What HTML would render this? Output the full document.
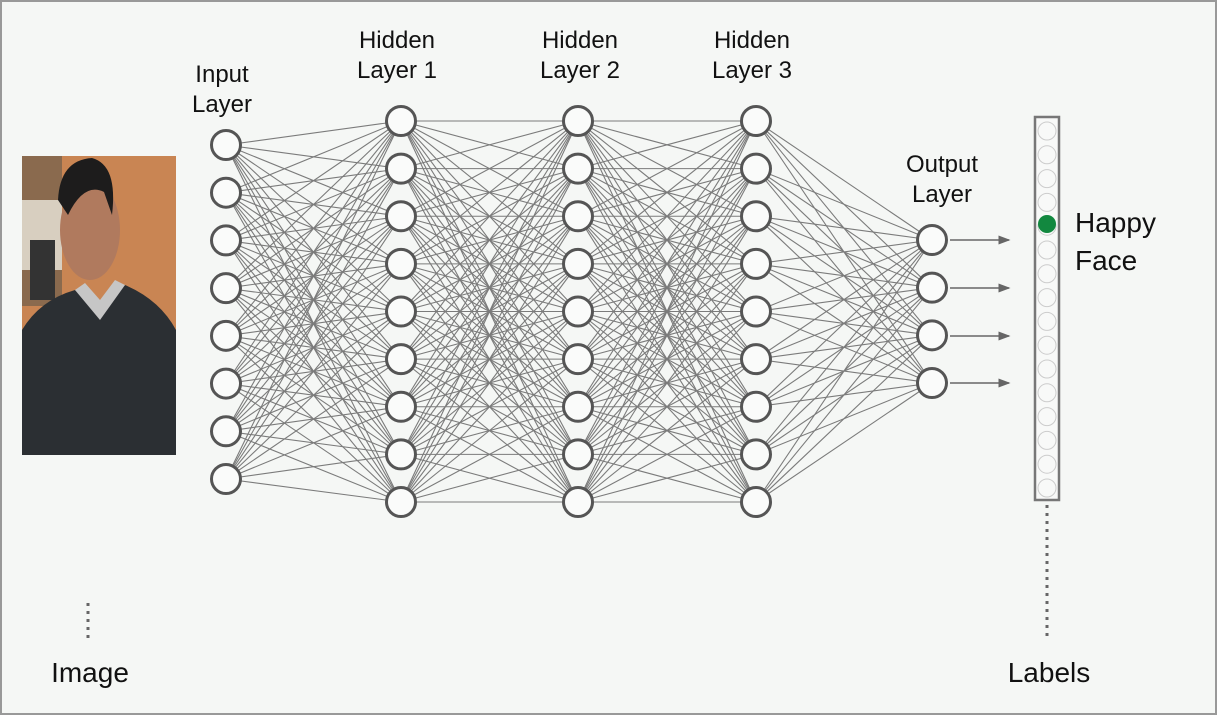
<!DOCTYPE html>
<html><head><meta charset="utf-8"><style>
html,body{margin:0;padding:0;}
body{width:1217px;height:715px;background:#f5f7f5;position:relative;overflow:hidden;font-family:"Liberation Sans",sans-serif;}
#frame{position:absolute;left:0;top:0;width:1213px;height:711px;border:2px solid #999;}
.t{position:absolute;color:#111;text-align:center;line-height:30px;}
</style></head><body>
<div id="frame"></div>
<svg id="s" width="1217" height="715" style="position:absolute;left:0;top:0">
<defs>
<marker id="ar" markerWidth="8" markerHeight="8" refX="7" refY="4" orient="auto"><path d="M0,1 L8,4 L0,7 z" fill="#666"/></marker>
</defs>
<g>
<rect x="22" y="156" width="154" height="299" fill="#c98553"/>
<rect x="22" y="156" width="40" height="150" fill="#8a6a4e"/>
<rect x="22" y="200" width="40" height="70" fill="#d8cfc0"/>
<rect x="30" y="240" width="25" height="60" fill="#333"/>
<ellipse cx="90" cy="230" rx="30" ry="50" fill="#b07a5e"/>
<path d="M58,200 Q60,160 92,158 Q118,165 112,215 L104,192 Q84,182 68,215 Z" fill="#1d1c1c"/>
<path d="M22,455 L22,330 Q40,300 75,290 L100,310 L125,285 Q160,300 176,330 L176,455 Z" fill="#2b2f33"/>
<path d="M75,290 L100,320 L125,285 L115,280 L100,300 L85,283 Z" fill="#c6c6c6"/>
</g>
<g id="lines" stroke="#666" stroke-width="1.1" opacity="0.85"></g>
<g id="nodes"></g>
<g stroke="#666" stroke-width="1.5" marker-end="url(#ar)">
<line x1="950" y1="240" x2="1009" y2="240"/>
<line x1="950" y1="288" x2="1009" y2="288"/>
<line x1="950" y1="336" x2="1009" y2="336"/>
<line x1="950" y1="383" x2="1009" y2="383"/>
</g>
<rect x="1035" y="117" width="24" height="383" fill="#f8f9f8" stroke="#777" stroke-width="2.5"/>
<g id="bar" fill="none" stroke="#ccc" stroke-width="1"></g>
<circle cx="1047" cy="224" r="9" fill="#12883f"/>
<line x1="1047" y1="505" x2="1047" y2="640" stroke="#666" stroke-width="3" stroke-dasharray="3 5"/>
<line x1="88" y1="603" x2="88" y2="640" stroke="#666" stroke-width="3" stroke-dasharray="3 5"/>
</svg>
<div class="t" style="left:172px;top:60px;width:100px;font-size:24px;">Input<br>Layer</div>
<div class="t" style="left:347px;top:26px;width:100px;font-size:24px;">Hidden<br>Layer 1</div>
<div class="t" style="left:530px;top:26px;width:100px;font-size:24px;">Hidden<br>Layer 2</div>
<div class="t" style="left:702px;top:26px;width:100px;font-size:24px;">Hidden<br>Layer 3</div>
<div class="t" style="left:892px;top:150px;width:100px;font-size:24px;">Output<br>Layer</div>
<div class="t" style="left:1075px;top:204px;text-align:left;font-size:28px;line-height:38px;">Happy<br>Face</div>
<div class="t" style="left:38px;top:658px;width:104px;font-size:28px;">Image</div>
<div class="t" style="left:997px;top:658px;width:104px;font-size:28px;">Labels</div>
<script>
var NS="http://www.w3.org/2000/svg";
function ys(n,a,b){var r=[];for(var i=0;i<n;i++)r.push(a+(b-a)*i/(n-1));return r;}
var L=[[226,ys(8,145,479)],[401,ys(9,121,502)],[578,ys(9,121,502)],[756,ys(9,121,502)],[932,ys(4,240,383)]];
var g=document.getElementById('lines');
for(var k=0;k<L.length-1;k++){var A=L[k],B=L[k+1];
A[1].forEach(function(y1){B[1].forEach(function(y2){var l=document.createElementNS(NS,'line');
l.setAttribute('x1',A[0]);l.setAttribute('y1',y1);l.setAttribute('x2',B[0]);l.setAttribute('y2',y2);g.appendChild(l);});});}
var nd=document.getElementById('nodes');
L.forEach(function(Ly){Ly[1].forEach(function(y){var c=document.createElementNS(NS,'circle');
c.setAttribute('cx',Ly[0]);c.setAttribute('cy',y);c.setAttribute('r',14.5);c.setAttribute('fill','#fafbfa');c.setAttribute('stroke','#555');c.setAttribute('stroke-width','3');nd.appendChild(c);});});
var b=document.getElementById('bar');
for(var i=0;i<16;i++){var c=document.createElementNS(NS,'circle');c.setAttribute('cx',1047);c.setAttribute('cy',131+i*23.8);c.setAttribute('r',9);b.appendChild(c);}
</script>
</body></html>
